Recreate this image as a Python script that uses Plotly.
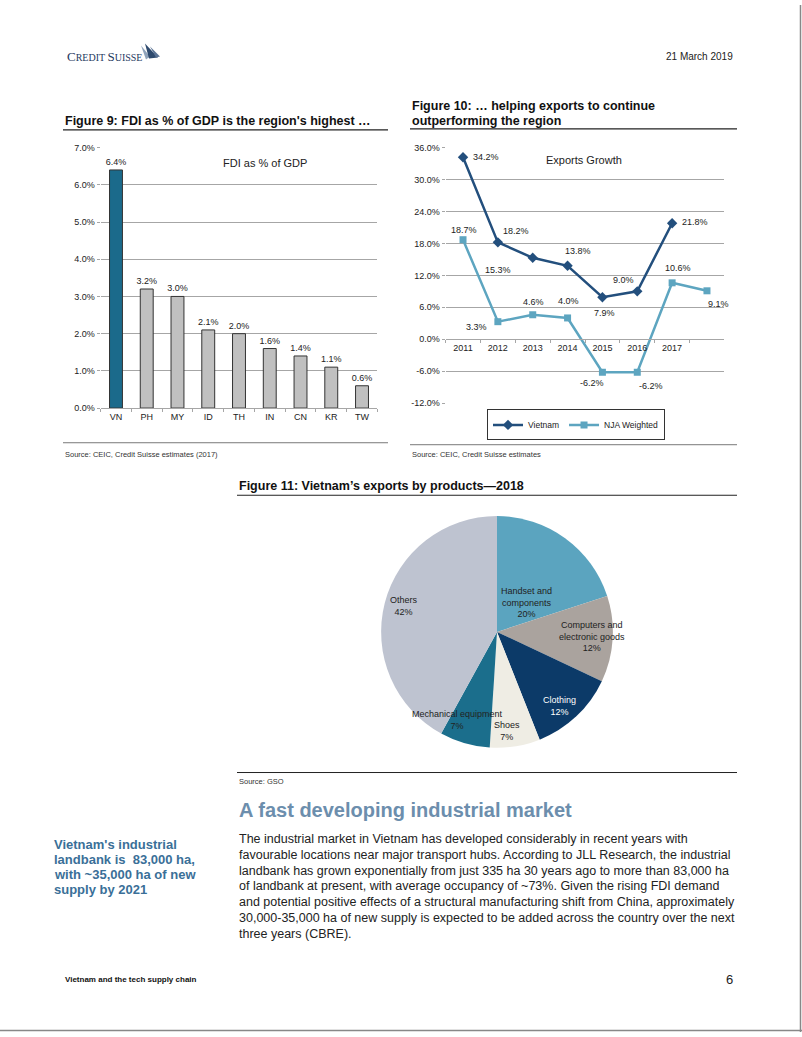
import plotly.graph_objects as go

W, H = 802, 1037

# ---------------- data ----------------
fdi_countries = ["VN", "PH", "MY", "ID", "TH", "IN", "CN", "KR", "TW"]
fdi_values = [6.4, 3.2, 3.0, 2.1, 2.0, 1.6, 1.4, 1.1, 0.6]
fdi_yticks = [0, 1, 2, 3, 4, 5, 6, 7]

years = ["2011", "2012", "2013", "2014", "2015", "2016", "2017", " "]
vietnam_growth = [34.2, 18.2, 15.3, 13.8, 7.9, 9.0, 21.8]
nja_growth = [18.7, 3.3, 4.6, 4.0, -6.2, -6.2, 10.6, 9.1]
exp_yticks = [-12, -6, 0, 6, 12, 18, 24, 30, 36]

pie_labels = ["Handset and<br>components", "Computers and<br>electronic goods", "Clothing",
              "Shoes", "Mechanical equipment", "Others"]
pie_values = [20, 12, 12, 7, 7, 42]

body_lines = [
    "The industrial market in Vietnam has developed considerably in recent years with",
    "favourable locations near major transport hubs. According to JLL Research, the industrial",
    "landbank has grown exponentially from just 335 ha 30 years ago to more than 83,000 ha",
    "of landbank at present, with average occupancy of ~73%. Given the rising FDI demand",
    "and potential positive effects of a structural manufacturing shift from China, approximately",
    "30,000-35,000 ha of new supply is expected to be added across the country over the next",
    "three years (CBRE).",
]
side_lines = ["Vietnam's industrial", "landbank is  83,000 ha,", "with ~35,000 ha of new", "supply by 2021"]

# ---------------- styles ----------------
def px(x):
    return x / W

def py(y):
    return 1 - y / H

SANS = "Liberation Sans, Arial, sans-serif"
GRID = "#A6A6A6"
VN_BLUE = "#1B6A8B"
DARK_BLUE = "#234F7D"
TEAL = "#5DA5C0"

bar_colors = [VN_BLUE] + ["#C0C0C0"] * (len(fdi_values) - 1)
pie_colors = ["#5BA4BF", "#AAA39E", "#0C3A68", "#EFEDE4", "#1B6E8C", "#BEC3D0"]

fig = go.Figure()

# Figure 9 bars
fig.add_trace(go.Bar(
    x=fdi_countries, y=fdi_values, xaxis="x", yaxis="y",
    marker=dict(color=bar_colors, line=dict(color="#333333", width=1)),
    width=0.42,
    text=[f"{v:.1f}%" for v in fdi_values], textposition="outside", constraintext="none",
    textfont=dict(family=SANS, size=9, color="#222"), cliponaxis=False,
    showlegend=False, hoverinfo="skip",
))

# Figure 10 lines
fig.add_trace(go.Scatter(
    x=years[:len(vietnam_growth)], y=vietnam_growth, xaxis="x2", yaxis="y2",
    mode="lines+markers", name="Vietnam",
    line=dict(color=DARK_BLUE, width=2.5),
    marker=dict(symbol="diamond", size=8, color=DARK_BLUE),
    cliponaxis=False,
))
fig.add_trace(go.Scatter(
    x=years[:len(nja_growth)], y=nja_growth, xaxis="x2", yaxis="y2",
    mode="lines+markers", name="NJA Weighted",
    line=dict(color=TEAL, width=2.5),
    marker=dict(symbol="square", size=7, color=TEAL),
    cliponaxis=False,
))

# Figure 11 pie
fig.add_trace(go.Pie(
    labels=pie_labels, values=pie_values, sort=False, direction="clockwise", rotation=0,
    marker=dict(colors=pie_colors, line=dict(width=0)),
    textinfo="none", hoverinfo="skip", showlegend=False,
    domain=dict(x=[px(380), px(614)], y=[py(750), py(516)]),
))

ann = []

def text(x, y, s, size=10, color="#222", family=SANS, anchor="left", bold=False, vanchor="middle"):
    if bold:
        s = f"<b>{s}</b>"
    ann.append(dict(xref="paper", yref="paper", x=px(x), y=py(y), text=s, showarrow=False,
                    xanchor=anchor, yanchor=vanchor, font=dict(size=size, color=color, family=family)))

# Figure 10 data labels (offsets are label placement only); x given as category index
vn_offsets = [(23, 0), (18, 11), (-35, -12), (10, 15), (2, -16), (-14, 11), (23, 1)]
nja_offsets = [(1, 10), (-21, -5), (1, 13), (1, 17), (-10, -11), (14, -14), (6, 15), (12, -13)]
for i, (yv, (dx, dy)) in enumerate(zip(vietnam_growth, vn_offsets)):
    ann.append(dict(xref="x2", yref="y2", x=i, y=yv, text=f"{yv:.1f}%", showarrow=False,
                    xshift=dx, yshift=dy, font=dict(size=9, color="#222", family=SANS)))
for i, (yv, (dx, dy)) in enumerate(zip(nja_growth, nja_offsets)):
    ann.append(dict(xref="x2", yref="y2", x=i, y=yv, text=f"{yv:.1f}%", showarrow=False,
                    xshift=dx, yshift=dy, font=dict(size=9, color="#222", family=SANS)))

# Pie labels
pie_label_pos = [(526, 603), (592, 638), (559, 708), (507, 733), (457, 722), (404, 607)]
pie_label_col = ["#222", "#222", "#FFFFFF", "#222", "#222", "#222"]
for lab, v, (lx, ly), c in zip(pie_labels, pie_values, pie_label_pos, pie_label_col):
    text(lx, ly, f"{lab}<br>{v}%", size=9, color=c, anchor="center")

# Chart inner titles
text(265, 160, "FDI as % of GDP", size=11, anchor="center")
text(584, 157, "Exports Growth", size=11, anchor="center")

# Header
text(65, 52, '<span style="font-size:13px">C</span>REDIT <span style="font-size:13px">S</span>UISSE',
     size=10, color="#1F3A5F", family="Liberation Serif, DejaVu Serif, serif")
text(735, 52, "21 March 2019", size=10, color="#222", anchor="right")

# Figure titles
text(63, 117, "Figure 9: FDI as % of GDP is the region's highest …", size=12.5, color="#111", bold=True)
text(410, 102, "Figure 10: … helping exports to continue", size=12.5, color="#111", bold=True)
text(410, 117, "outperforming the region", size=12.5, color="#111", bold=True)
text(237, 486, "Figure 11: Vietnam’s exports by products—2018", size=12.5, color="#111", bold=True)

# Sources
text(63, 454, "Source: CEIC, Credit Suisse estimates (2017)", size=7.5, color="#333")
text(410, 454, "Source: CEIC, Credit Suisse estimates", size=7.5, color="#333")
text(237, 784, "Source: GSO", size=7.5, color="#333")

# Section heading and text
text(237, 813, "A fast developing industrial market", size=20, color="#6C8EAD", bold=True)
for i, s in enumerate(side_lines):
    text(52, 848 + 15 * i, s, size=13, color="#3A6F98", bold=True)
for i, s in enumerate(body_lines):
    text(237, 842 + 16 * i, s, size=12.5, color="#222")

# Footer
text(63, 984, "Vietnam and the tech supply chain", size=8, color="#111", bold=True)
text(735, 984, "6", size=13, color="#222", anchor="right")

shapes = []

def hline(x0, x1, y, color="#222", width=1):
    shapes.append(dict(type="line", xref="paper", yref="paper", x0=px(x0), x1=px(x1), y0=py(y), y1=py(y),
                       line=dict(color=color, width=width)))

hline(63, 388, 126, width=1.2)
hline(410, 737, 125, width=1.2)
hline(63, 388, 442, color="#555", width=0.8)
hline(410, 737, 444, color="#555", width=0.8)
hline(237, 737, 495, width=1.2)
hline(237, 737, 775, width=1)

# page border (right & bottom)
shapes.append(dict(type="line", xref="paper", yref="paper", x0=px(800.5), x1=px(800.5), y0=0, y1=1,
                   line=dict(color="#888", width=1.5)))
shapes.append(dict(type="line", xref="paper", yref="paper", x0=0, x1=1, y0=py(1035.5), y1=py(1035.5),
                   line=dict(color="#888", width=1.5)))

# logo sails
def path(pts, color):
    d = "M " + " L ".join(f"{px(a)},{py(b)}" for a, b in pts) + " Z"
    shapes.append(dict(type="path", xref="paper", yref="paper", path=d, fillcolor=color, line=dict(width=0)))

path([(141, 41), (150, 52), (146, 55)], "#8FA3BB")
path([(145, 39), (158, 53), (149, 54)], "#2E4A6E")
path([(150, 42), (160, 52), (156, 53)], "#5A7395")

axis_font = dict(family=SANS, size=9, color="#222")

fig.update_layout(
    width=W, height=H, margin=dict(l=0, r=0, t=0, b=0),
    paper_bgcolor="white", plot_bgcolor="rgba(0,0,0,0)",
    annotations=ann, shapes=shapes,
    xaxis=dict(domain=[px(100.6), px(377.4)], anchor="y", type="category",
               showline=True, linecolor=GRID, linewidth=1, tickson="boundaries",
               ticks="outside", ticklen=3, tickcolor=GRID, tickfont=axis_font, showgrid=False,
               range=[-0.5, len(fdi_countries) - 0.5]),
    yaxis=dict(domain=[py(407), py(144)], anchor="x", range=[0, 7], tickvals=fdi_yticks,
               ticktext=[f"{v:.1f}%" for v in fdi_yticks], showgrid=True, gridcolor=GRID, gridwidth=1,
               zeroline=False, ticks="outside", ticklen=3, tickcolor=GRID, tickfont=axis_font,
               showline=False),
    xaxis2=dict(domain=[px(445.6), px(724.4)], anchor="free", position=py(337), type="category",
                categoryorder="array", categoryarray=years, range=[-0.5, len(years) - 0.5],
                tickangle=0,
                showline=True, linecolor=GRID, linewidth=1, tickson="boundaries",
                ticks="outside", ticklen=3, tickcolor=GRID, tickfont=axis_font, showgrid=False),
    yaxis2=dict(domain=[py(402), py(144)], anchor="x2", range=[-12, 36], tickvals=exp_yticks,
                ticktext=[f"{v:.1f}%" for v in exp_yticks], showgrid=True, gridcolor=GRID, gridwidth=1,
                zeroline=False, ticks="outside", ticklen=3, tickcolor=GRID, tickfont=axis_font,
                showline=False),
    legend=dict(orientation="h", x=px(487), y=py(424), xanchor="left", yanchor="middle",
                bordercolor="#333", borderwidth=1, font=dict(family=SANS, size=8.5, color="#222"),
                bgcolor="white", itemwidth=30, tracegroupgap=0),
)

fig.write_html("out.html", config={"displayModeBar": False},
               post_script="document.body.style.margin='0';document.body.style.overflow='hidden';")
